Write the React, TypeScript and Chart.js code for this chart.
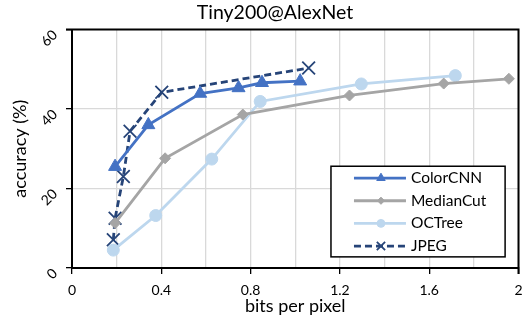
import React, { useEffect, useRef } from "react";
import { Chart, registerables } from "chart.js";
import { drawPoint } from "chart.js/helpers";

Chart.register(...registerables);

const TITLE = "Tiny200@AlexNet";
const X_TITLE = "bits per pixel";
const Y_TITLE = "accuracy (%)";

const colorCnnX = [0.193, 0.342, 0.574, 0.746, 0.851, 1.022];
const colorCnnY = [25.5, 36.0, 43.9, 45.3, 46.6, 47.0];
const medianCutX = [0.193, 0.417, 0.765, 1.243, 1.665, 1.957];
const medianCutY = [11.3, 27.6, 38.6, 43.4, 46.4, 47.6];
const ocTreeX = [0.185, 0.375, 0.626, 0.843, 1.296, 1.717];
const ocTreeY = [4.5, 13.2, 27.4, 41.9, 46.3, 48.4];
const jpegX = [0.185, 0.193, 0.23, 0.26, 0.402, 1.06];
const jpegY = [7.1, 12.5, 23.0, 34.4, 44.2, 50.3];

const FONT = "Lato, 'Open Sans', sans-serif";

const pts = (xs: number[], ys: number[]) => xs.map((x, i) => ({ x, y: ys[i] }));

const framePlugin = {
  id: "frame",
  beforeDatasetsDraw(chart: any) {
    const { left, right, top, bottom } = chart.chartArea;
    const ctx = chart.ctx;
    ctx.save();
    ctx.strokeStyle = "#000";
    ctx.lineWidth = 2;
    ctx.beginPath();
    ctx.moveTo(left - 6, top);
    ctx.lineTo(right, top);
    ctx.lineTo(right, bottom + 6);
    ctx.stroke();
    ctx.restore();
  },
  afterDraw(chart: any) {
    const ctx = chart.ctx;
    ctx.save();
    ctx.fillStyle = "#000";
    ctx.font = `19.5px ${FONT}`;
    ctx.textAlign = "center";
    ctx.textBaseline = "middle";
    ctx.fillText(TITLE, 275, 13);
    ctx.restore();
  },
};

const legendPlugin = {
  id: "insideLegend",
  afterDatasetsDraw(chart: any) {
    const ctx = chart.ctx;
    const xs = chart.scales.x;
    const ys = chart.scales.y;
    const left = xs.getPixelForValue(1.16);
    const right = xs.getPixelForValue(1.94);
    const top = ys.getPixelForValue(25.6);
    const bottom = ys.getPixelForValue(2.8);
    ctx.save();
    ctx.fillStyle = "#fff";
    ctx.fillRect(left, top, right - left, bottom - top);
    ctx.strokeStyle = "#000";
    ctx.lineWidth = 1.5;
    ctx.strokeRect(left, top, right - left, bottom - top);
    const rowH = (bottom - top) / 4;
    chart.data.datasets.forEach((ds: any, i: number) => {
      const cy = top + rowH * (i + 0.5) + 0.5;
      const x0 = left + 23;
      const x1 = left + 75;
      ctx.strokeStyle = ds.borderColor;
      ctx.lineWidth = ds.borderWidth;
      ctx.setLineDash(ds.borderDash || []);
      ctx.beginPath();
      ctx.moveTo(x0, cy);
      ctx.lineTo(x1, cy);
      ctx.stroke();
      ctx.setLineDash([]);
      ctx.fillStyle = ds.pointBackgroundColor;
      ctx.strokeStyle = ds.pointBorderColor;
      ctx.lineWidth = ds.pointBorderWidth || 1;
      drawPoint(ctx, {
        pointStyle: ds.pointStyle,
        radius: ds.pointRadius * 0.65,
        borderWidth: ds.pointBorderWidth || 1,
        rotation: 0,
      } as any, (x0 + x1) / 2 + 1, cy);
      ctx.fillStyle = "#000";
      ctx.font = `15.5px ${FONT}`;
      ctx.textBaseline = "middle";
      ctx.textAlign = "left";
      ctx.fillText(ds.label, x1 + 5, cy);
    });
    ctx.restore();
  },
};

export default function App() {
  const ref = useRef<HTMLCanvasElement | null>(null);
  useEffect(() => {
    document.body.style.margin = "0";
    const c = ref.current;
    if (!c) return;
    const mk = (label: string, xs: number[], ys: number[], color: string, style: string, r: number, dash?: number[]) => ({
      label,
      data: pts(xs, ys),
      borderColor: color,
      backgroundColor: color,
      pointBackgroundColor: color,
      pointBorderColor: color,
      borderWidth: 2.8,
      pointStyle: style,
      pointRadius: r,
      pointBorderWidth: style === "crossRot" ? 1.8 : 1,
      borderDash: dash,
      tension: 0,
    });
    const chart = new Chart(c, {
      type: "scatter",
      data: {
        datasets: [
          mk("ColorCNN", colorCnnX, colorCnnY, "#4472C4", "triangle", 7.5),
          mk("MedianCut", medianCutX, medianCutY, "#A5A5A5", "rectRot", 5.5),
          mk("OCTree", ocTreeX, ocTreeY, "#BDD7EE", "circle", 6),
          mk("JPEG", jpegX, jpegY, "#264478", "crossRot", 9, [7, 4]),
        ].map((d) => ({ ...d, showLine: true })) as any,
      },
      options: {
        responsive: false,
        animation: false,
        layout: { autoPadding: false, padding: { left: 0, top: 29.5, bottom: 0, right: 3.5 } },
        plugins: {
          legend: { display: false },
          tooltip: { enabled: false },
          title: { display: false },
        },
        scales: {
          x: {
            type: "linear",
            min: 0,
            max: 2,
            border: { color: "#000", width: 2 },
            grid: {
              color: "#d9d9d9",
              lineWidth: 1.3,
              tickLength: 6,
              tickColor: (ctx: any) => (ctx.index % 2 === 0 ? "#000" : "rgba(0,0,0,0)"),
            },
            ticks: {
              stepSize: 0.2,
              color: "#000",
              padding: 8,
              maxRotation: 0,
              autoSkip: false,
              font: { family: FONT, size: 14 },
              callback: (v: any, i: number) => (i % 2 === 0 ? String(Math.round(Number(v) * 10) / 10) : ""),
            },
            title: {
              display: true,
              text: X_TITLE,
              color: "#000",
              font: { family: FONT, size: 18 },
              padding: { top: -5, bottom: 0 },
            },
            afterFit: (s: any) => {
              s.height = 49;
              s.paddingLeft = 0;
              s.paddingRight = 0;
            },
          },
          y: {
            type: "linear",
            min: 0,
            max: 60,
            border: { color: "#000", width: 2 },
            grid: {
              color: (ctx: any) => (ctx.tick && (ctx.tick.value === 0 || ctx.tick.value === 60) ? "rgba(0,0,0,0)" : "#d9d9d9"),
              lineWidth: 1.3,
              tickLength: 6,
              tickColor: "#000",
            },
            ticks: {
              stepSize: 20,
              color: "#000",
              padding: 11,
              labelOffset: 3,
              minRotation: 45,
              maxRotation: 45,
              font: { family: FONT, size: 14 },
            },
            title: {
              display: true,
              text: Y_TITLE,
              color: "#000",
              font: { family: FONT, size: 18 },
              padding: { top: 9, bottom: 0 },
            },
            afterFit: (s: any) => {
              s.width = 72;
              s.paddingTop = 0;
              s.paddingBottom = 0;
              s.paddingLeft = 0;
              s.paddingRight = 0;
            },
          },
        },
      } as any,
      plugins: [framePlugin, legendPlugin],
    });
    return () => chart.destroy();
  }, []);
  return (
    <div style={{ width: 522, height: 317 }}>
      <canvas ref={ref} width={522} height={317} />
    </div>
  );
}
